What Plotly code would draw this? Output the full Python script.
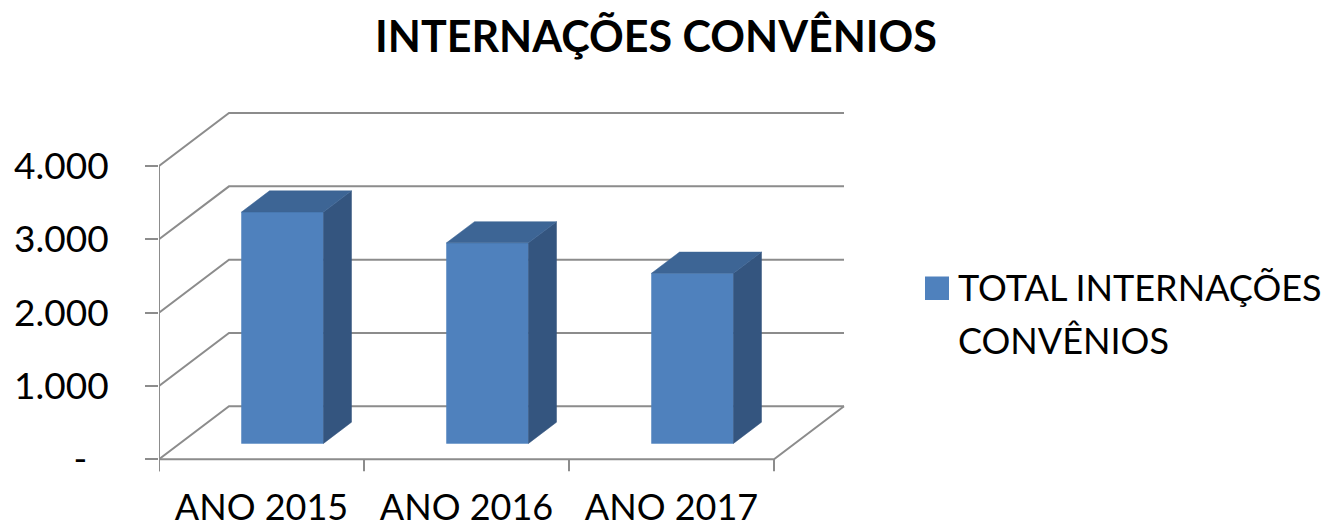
import plotly.graph_objects as go

# ---------------- data ----------------
categories = ["ANO 2015", "ANO 2016", "ANO 2017"]
values = [3155, 2735, 2320]
series_name = ["TOTAL INTERNAÇÕES", "CONVÊNIOS"]
title_text = "INTERNAÇÕES CONVÊNIOS"
y_tickvals = [0, 1000, 2000, 3000, 4000]
y_ticktext = ["-\u2007", "1.000", "2.000", "3.000", "4.000"]

# ---------------- styling / projection ----------------
FONT = "Lato"
GRID = "#8C8C8C"
FRONT = "#4F81BD"
TOP = "#3D6595"
SIDE = "#34557F"

OFF = 8  # page body margin offset
W, H = 1334 - OFF, 532 - OFF
PLOT_L, PLOT_R, PLOT_T, PLOT_B = 159 - OFF, 860 - OFF, 100 - OFF, 480 - OFF
ML, MR, MT, MB = PLOT_L, W - PLOT_R, PLOT_T, H - PLOT_B
PX_PER_CAT = 205.0
PX_PER_UNIT = 0.07333
DX = 70 / PX_PER_CAT          # full depth offset, category units
DY = 53 / PX_PER_UNIT         # full depth offset, value units
BAR_W = 0.4
Z0, Z1 = 0.30, 0.70
TICK = 12 / PX_PER_UNIT

n = len(categories)
x0, xN = -0.5, n - 0.5
plot_w = W - ML - MR
plot_h = H - MT - MB
zero_px = 459.3 - OFF
top_px = 166 - OFF
x_range = [x0, x0 + plot_w / PX_PER_CAT]
y_range = [-(PLOT_B - zero_px) / PX_PER_UNIT, 4000 + (top_px - PLOT_T) / PX_PER_UNIT]

fig = go.Figure()

# ---------------- walls / floor / grid ----------------
gx, gy = [], []
for v in y_tickvals:
    gx += [x0, x0 + DX, xN + DX, None]
    gy += [v, v + DY, v + DY, None]
# floor front and right edge
gx += [x0, xN, xN + DX, None]
gy += [0, 0, DY, None]
# front-left vertical axis line (extends below as a tick)
gx += [x0, x0, None]
gy += [y_tickvals[-1], -TICK, None]
# category separator ticks
for k in range(n + 1):
    gx += [k - 0.5, k - 0.5, None]
    gy += [0, -TICK, None]
fig.add_trace(go.Scatter(x=gx, y=gy, mode="lines",
                         line=dict(color=GRID, width=2),
                         hoverinfo="skip", showlegend=False))

# ---------------- 3D bars ----------------
ddx = (Z1 - Z0) * DX
ddy = (Z1 - Z0) * DY
b = Z0 * DY
for i, v in enumerate(values):
    xl = i - BAR_W / 2 + Z0 * DX
    xr = xl + BAR_W
    faces = [
        ([xl, xr, xr, xl, xl], [b, b, b + v, b + v, b], FRONT),
        ([xr, xr + ddx, xr + ddx, xr, xr], [b, b + ddy, b + ddy + v, b + v, b], SIDE),
        ([xl, xr, xr + ddx, xl + ddx, xl], [b + v, b + v, b + v + ddy, b + v + ddy, b + v], TOP),
    ]
    for fx, fy, col in faces:
        fig.add_trace(go.Scatter(x=fx, y=fy, mode="lines", fill="toself",
                                 fillcolor=col, line=dict(color=col, width=0.5),
                                 hoverinfo="skip", showlegend=False))

# ---------------- legend (manual, to get the large key) ----------------
def px_to_paper_x(px):
    return (px - OFF - ML) / plot_w

def px_to_paper_y(py):
    return (PLOT_B - (py - OFF)) / plot_h

fig.add_shape(type="rect", xref="paper", yref="paper",
              x0=px_to_paper_x(925), x1=px_to_paper_x(949),
              y0=px_to_paper_y(300), y1=px_to_paper_y(276.5),
              fillcolor=FRONT, line=dict(width=0))
for j, (txt, cy) in enumerate(zip(series_name, [287, 340])):
    fig.add_annotation(text=txt, xref="paper", yref="paper",
                       x=px_to_paper_x(956), y=px_to_paper_y(cy),
                       xanchor="left", yanchor="middle", showarrow=False,
                       font=dict(family=FONT, size=36, color="black"))

fig.update_layout(
    width=W, height=H,
    margin=dict(l=ML, r=MR, t=MT, b=MB, autoexpand=False),
    paper_bgcolor="white", plot_bgcolor="white",
    showlegend=False,
    title=dict(text="<b>" + title_text + "</b>", xref="container", yref="container",
               x=(656 - OFF) / W, y=1 - (37 - OFF) / H, xanchor="center", yanchor="middle",
               font=dict(family=FONT, size=43, color="black")),
    xaxis=dict(range=x_range, tickvals=list(range(n)), ticktext=categories,
               showgrid=False, zeroline=False, showline=False, ticks="",
               automargin=False, ticklabelstandoff=3,
               tickfont=dict(family=FONT, size=36, color="black"),
               fixedrange=True),
    yaxis=dict(range=y_range, tickvals=y_tickvals, ticktext=y_ticktext,
               showgrid=False, zeroline=False, showline=False,
               ticks="outside", ticklen=13, tickwidth=2, tickcolor=GRID,
               ticklabelstandoff=29, automargin=False,
               tickfont=dict(family=FONT, size=37, color="black"),
               fixedrange=True),
)

fig.write_html("out.html")
